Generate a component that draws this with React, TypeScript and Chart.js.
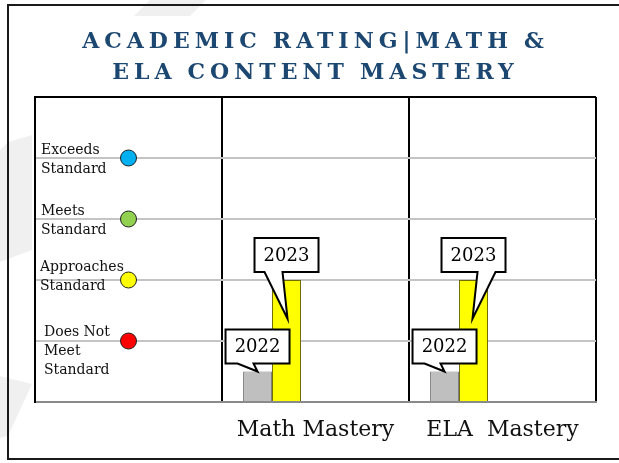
import React, { useEffect, useRef } from 'react';
import { Chart, registerables } from 'chart.js';

Chart.register(...registerables);

// ---- data ----
const categories = [' ', 'Math Mastery', 'ELA  Mastery'];
const years = ['2022', '2023'];
const values2022 = [null, 0.5, 0.5];
const values2023 = [null, 2, 2];
const ratingLevels = [1, 2, 3, 4];
const ratingLabels = [
  ['Does Not', 'Meet', 'Standard'],
  ['Approaches', 'Standard'],
  ['Meets', 'Standard'],
  ['Exceeds', 'Standard'],
];
const ratingColors = ['#FF0000', '#FFFF00', '#92D050', '#00B0F0'];
const titleLines = [
  ['ACADEMIC', 'RATING|MATH', '&'],
  ['ELA', 'CONTENT', 'MASTERY'],
];
const yMax = 5;

const SERIF = "'DejaVu Serif', 'Liberation Serif', serif";
const CANVAS_W = 626;

const framePlugin = {
  id: 'frame',
  beforeDraw(chart: any) {
    const ctx = chart.ctx;
    ctx.save();
    ctx.fillStyle = '#ffffff';
    ctx.fillRect(0, 0, chart.width, chart.height);
    // faint watermark shapes
    ctx.fillStyle = '#F0F0F0';
    const shapes = [
      [[150, 0], [206, 0], [190, 16], [134, 16]],
      [[0, 150], [8, 142], [32, 135], [32, 250], [0, 262]],
      [[0, 376], [32, 384], [8, 436], [0, 438]],
    ];
    shapes.forEach((pts) => {
      ctx.beginPath();
      pts.forEach((p, i) => (i ? ctx.lineTo(p[0], p[1]) : ctx.moveTo(p[0], p[1])));
      ctx.closePath();
      ctx.fill();
    });
    // frame (top, left, bottom)
    ctx.strokeStyle = '#1a1a1a';
    ctx.lineWidth = 2;
    ctx.beginPath();
    ctx.moveTo(chart.width + 5, 5);
    ctx.lineTo(8, 5);
    ctx.lineTo(8, 459);
    ctx.lineTo(chart.width + 5, 459);
    ctx.stroke();
    // title
    ctx.fillStyle = '#1C4770';
    ctx.font = `bold 22px ${SERIF}`;
    ctx.textBaseline = 'alphabetic';
    ctx.textAlign = 'left';
    const ls = 5;
    (ctx as any).letterSpacing = ls + 'px';
    const wordGap = 16;
    const baselines = [48, 79];
    const centerX = 313;
    titleLines.forEach((words, li) => {
      const widths = words.map((w) => ctx.measureText(w).width - ls);
      const total = widths.reduce((a, b) => a + b, 0) + wordGap * (words.length - 1);
      let x = centerX - total / 2;
      words.forEach((w, wi) => {
        ctx.fillText(w, x, baselines[li]);
        x += widths[wi] + wordGap;
      });
    });
    (ctx as any).letterSpacing = '0px';
    ctx.restore();
  },
};

const ratingTextPlugin = {
  id: 'ratingText',
  afterDatasetsDraw(chart: any) {
    const ctx = chart.ctx;
    const y = chart.scales.y;
    const left = chart.chartArea.left;
    const firstOffsets = [-9, -13, -8, -8];
    const xOffsets = [9, 5, 6, 6];
    ctx.save();
    ctx.fillStyle = '#111';
    ctx.font = `14px ${SERIF}`;
    ctx.textAlign = 'left';
    ctx.textBaseline = 'middle';
    ratingLevels.forEach((lvl, i) => {
      const py = y.getPixelForValue(lvl);
      ratingLabels[i].forEach((line, k) => {
        ctx.fillText(line, left + xOffsets[i], py + firstOffsets[i] + k * 19);
      });
    });
    ctx.restore();
  },
};

function drawCallout(ctx: any, text: string, cx: number, boxBottom: number, tailA: number, tailB: number, tipX: number, tipY: number) {
  const w = 64;
  const h = 34;
  const left = cx - w / 2;
  const top = boxBottom - h;
  const tl = Math.min(tailA, tailB);
  const tr = Math.max(tailA, tailB);
  ctx.beginPath();
  ctx.moveTo(left, top);
  ctx.lineTo(left + w, top);
  ctx.lineTo(left + w, boxBottom);
  ctx.lineTo(tr, boxBottom);
  ctx.lineTo(tipX, tipY);
  ctx.lineTo(tl, boxBottom);
  ctx.lineTo(left, boxBottom);
  ctx.closePath();
  ctx.fillStyle = '#ffffff';
  ctx.fill();
  ctx.lineWidth = 2;
  ctx.lineJoin = 'miter';
  ctx.strokeStyle = '#000';
  ctx.stroke();
  ctx.fillStyle = '#000';
  ctx.font = `18px ${SERIF}`;
  ctx.textAlign = 'center';
  ctx.textBaseline = 'middle';
  ctx.fillText(text, cx, top + h / 2 + 1);
}

const calloutPlugin = {
  id: 'callouts',
  afterDatasetsDraw(chart: any) {
    const ctx = chart.ctx;
    ctx.save();
    const m22 = chart.getDatasetMeta(0);
    const m23 = chart.getDatasetMeta(1);
    [1, 2].forEach((idx) => {
      const b22 = m22.data[idx];
      const b23 = m23.data[idx];
      if (b22) {
        const cx = b22.x;
        drawCallout(ctx, years[0], cx, b22.y - 8, cx - 20, cx - 4, cx, b22.y);
      }
      if (b23) {
        const cx = b23.x;
        const side = idx === 1 ? -1 : 1;
        const tipY = b23.y + (b23.base - b23.y) * 0.32;
        drawCallout(ctx, years[1], cx, b23.y - 8, cx + side * 4, cx + side * 22, cx - side, tipY);
      }
    });
    ctx.restore();
  },
};

export default function App() {
  const ref = useRef<HTMLCanvasElement | null>(null);
  useEffect(() => {
    if (!ref.current) return;
    const pointData = ratingLevels.map((lvl) => ({ x: categories[0], y: lvl }));
    const chart = new Chart(ref.current, {
      type: 'bar',
      data: {
        labels: categories,
        datasets: [
          {
            label: years[0],
            data: values2022,
            backgroundColor: '#BFBFBF',
            borderColor: '#7F7F7F',
            borderWidth: 1,
          },
          {
            label: years[1],
            data: values2023,
            backgroundColor: '#FFFF00',
            borderColor: '#6E6E00',
            borderWidth: 1,
          },
          { label: 'a', data: [null, null, null] },
          { label: 'b', data: [null, null, null] },
          { label: 'c', data: [null, null, null] },
          {
            type: 'line',
            label: 'Rating',
            data: pointData as any,
            showLine: false,
            pointRadius: 8,
            pointHoverRadius: 8,
            pointBackgroundColor: ratingColors,
            pointBorderColor: '#222',
            pointBorderWidth: 1,
            order: -1,
          } as any,
        ],
      },
      options: {
        animation: false,
        responsive: true,
        maintainAspectRatio: false,
        layout: { padding: { left: 35, top: 97, right: CANVAS_W - 596, bottom: 0 } },
        datasets: { bar: { categoryPercentage: 0.775, barPercentage: 1 } },
        plugins: {
          legend: { display: false },
          title: { display: false },
          tooltip: { enabled: false },
        },
        scales: {
          x: {
            offset: true,
            grid: { offset: true, color: '#000', lineWidth: 2, drawTicks: false },
            border: { display: true, color: '#8A8A8A', width: 2 },
            ticks: {
              color: '#111',
              font: { family: SERIF, size: 22 },
              padding: 15,
              maxRotation: 0,
              autoSkip: false,
            },
            afterFit(scale: any) {
              scale.height = 61;
            },
          },
          y: {
            min: 0,
            max: yMax,
            ticks: { display: false, stepSize: 1 },
            grid: {
              drawTicks: false,
              lineWidth: 2,
              color: (c: any) => (c.tick && c.tick.value === 0 ? '#8A8A8A' : c.tick && c.tick.value === yMax ? '#000' : '#C4C4C4'),
            },
            border: { display: true, color: '#000', width: 2 },
            afterFit(scale: any) {
              scale.width = 0;
            },
          },
        },
      },
      plugins: [framePlugin, ratingTextPlugin, calloutPlugin],
    });
    return () => chart.destroy();
  }, []);
  return (
    <div style={{ position: 'fixed', left: 0, top: 0, width: CANVAS_W, height: 463, background: '#fff', overflow: 'hidden' }}>
      <canvas ref={ref} />
    </div>
  );
}
